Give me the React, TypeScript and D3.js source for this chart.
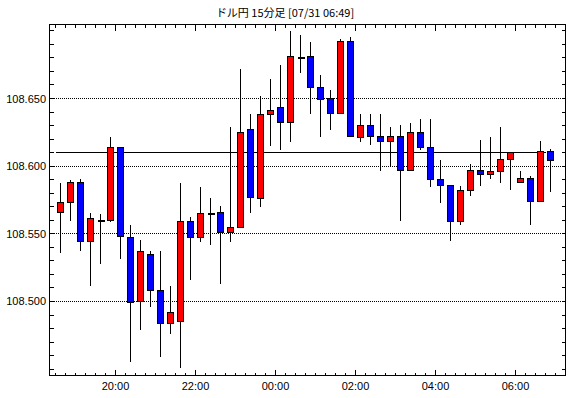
// 15-minute USD/JPY candlestick chart drawn with d3 into an svg
import React, { useEffect, useRef } from 'react';
import * as d3 from 'd3';

const title = 'ドル円 15分足 [07/31 06:49]';

const times = [
  '18:30', '18:45', '19:00', '19:15', '19:30', '19:45', '20:00', '20:15', '20:30', '20:45',
  '21:00', '21:15', '21:30', '21:45', '22:00', '22:15', '22:30', '22:45', '23:00', '23:15',
  '23:30', '23:45', '00:00', '00:15', '00:30', '00:45', '01:00', '01:15', '01:30', '01:45',
  '02:00', '02:15', '02:30', '02:45', '03:00', '03:15', '03:30', '03:45', '04:00', '04:15',
  '04:30', '04:45', '05:00', '05:15', '05:30', '05:45', '06:00', '06:15', '06:30', '06:45',
];

const opens = [
  108.566, 108.573, 108.588, 108.544, 108.560, 108.560, 108.614, 108.547, 108.500, 108.535,
  108.508, 108.484, 108.485, 108.559, 108.547, 108.565, 108.566, 108.551, 108.555, 108.627,
  108.576, 108.638, 108.643, 108.632, 108.680, 108.681, 108.658, 108.650, 108.639, 108.692,
  108.621, 108.630, 108.622, 108.618, 108.622, 108.597, 108.625, 108.614, 108.590, 108.586,
  108.559, 108.582, 108.597, 108.594, 108.596, 108.605, 108.588, 108.591, 108.574, 108.611,
];
const highs = [
  108.588, 108.590, 108.591, 108.566, 108.565, 108.622, 108.614, 108.557, 108.546, 108.538,
  108.538, 108.512, 108.588, 108.563, 108.585, 108.577, 108.571, 108.629, 108.672, 108.639,
  108.652, 108.665, 108.675, 108.700, 108.697, 108.692, 108.668, 108.657, 108.694, 108.696,
  108.639, 108.639, 108.639, 108.629, 108.631, 108.632, 108.635, 108.635, 108.605, 108.586,
  108.586, 108.602, 108.620, 108.622, 108.629, 108.610, 108.597, 108.593, 108.619, 108.613,
];
const lows = [
  108.536, 108.560, 108.538, 108.512, 108.528, 108.559, 108.532, 108.456, 108.479, 108.496,
  108.459, 108.476, 108.451, 108.516, 108.544, 108.542, 108.513, 108.544, 108.555, 108.566,
  108.570, 108.615, 108.612, 108.618, 108.669, 108.639, 108.622, 108.627, 108.639, 108.622,
  108.618, 108.616, 108.597, 108.600, 108.560, 108.597, 108.612, 108.585, 108.573, 108.545,
  108.557, 108.578, 108.586, 108.591, 108.588, 108.583, 108.588, 108.557, 108.574, 108.581,
];
const closes = [
  108.573, 108.588, 108.544, 108.561, 108.560, 108.614, 108.548, 108.499, 108.537, 108.508,
  108.484, 108.492, 108.559, 108.547, 108.565, 108.565, 108.551, 108.555, 108.625, 108.577,
  108.638, 108.641, 108.632, 108.681, 108.680, 108.658, 108.649, 108.639, 108.692, 108.622,
  108.630, 108.622, 108.618, 108.622, 108.597, 108.625, 108.614, 108.590, 108.586, 108.559,
  108.582, 108.597, 108.594, 108.596, 108.605, 108.610, 108.591, 108.574, 108.611, 108.604,
];

const refPrice = 108.6099;
const gridPrices = [108.5, 108.55, 108.6, 108.65];
const hourLabels = ['20:00', '22:00', '00:00', '02:00', '04:00', '06:00'];

// times before noon belong to the next day
const toDate = (hhmm: string) => {
  const [h, m] = hhmm.split(':').map(Number);
  return new Date(2019, 6, h < 12 ? 31 : 30, h, m);
};

const App = () => {
  const svgRef = useRef<SVGSVGElement>(null);

  useEffect(() => {
    const width = 570;
    const height = 398;
    const svg = d3.select(svgRef.current);
    svg.selectAll('*').remove();
    svg.attr('width', width).attr('height', height);

    const left = 49.5, right = 565.5, top = 24.5, bottom = 375.5;
    const font = '"Liberation Sans", Arial, sans-serif';
    const px = (v: number) => Math.floor(v) + 0.5;

    const xScale = d3.scaleTime()
      .domain([new Date(2019, 6, 30, 18, 21), new Date(2019, 6, 31, 7, 15)])
      .range([left, right]);

    const yScale = d3.scaleLinear()
      .domain([108.4453, 108.7047])
      .range([bottom, top]);

    svg.append('rect')
      .attr('width', width).attr('height', height).attr('fill', '#fff');

    // title
    svg.append('text')
      .attr('x', 285).attr('y', 17)
      .attr('text-anchor', 'middle')
      .attr('font-family', '"Noto Sans CJK JP", sans-serif')
      .attr('font-size', 11)
      .text(title);

    const g = svg.append('g').attr('shape-rendering', 'crispEdges');

    // dotted grid
    g.selectAll('.grid')
      .data(gridPrices)
      .enter()
      .append('line')
      .attr('x1', left).attr('x2', right)
      .attr('y1', d => px(yScale(d))).attr('y2', d => px(yScale(d)))
      .attr('stroke', '#000')
      .attr('stroke-dasharray', '1,1');

    // reference price line
    g.append('line')
      .attr('x1', px(xScale(toDate('18:30'))))
      .attr('x2', px(xScale(toDate('06:45'))))
      .attr('y1', px(yScale(refPrice))).attr('y2', px(yScale(refPrice)))
      .attr('stroke', '#000');

    // y ticks every 0.01, both sides, pointing in
    const yTicks = d3.range(0, 26).map(i => +(108.45 + i * 0.01).toFixed(2));
    yTicks.forEach(v => {
      const y = px(yScale(v));
      g.append('line').attr('x1', left).attr('x2', left + 4).attr('y1', y).attr('y2', y).attr('stroke', '#000');
      g.append('line').attr('x1', right - 4).attr('x2', right).attr('y1', y).attr('y2', y).attr('stroke', '#000');
    });

    // x ticks every 15 min, top and bottom
    const xTicks = d3.timeMinute.every(15)!.range(toDate('18:30'), new Date(2019, 6, 31, 7, 16));
    xTicks.forEach(t => {
      const x = px(xScale(t));
      const major = t.getMinutes() === 0 && t.getHours() % 2 === 0;
      const len = major ? 6 : 3;
      g.append('line').attr('x1', x).attr('x2', x).attr('y1', top).attr('y2', top + len).attr('stroke', '#000');
      g.append('line').attr('x1', x).attr('x2', x).attr('y1', bottom - len).attr('y2', bottom).attr('stroke', '#000');
    });

    // candles
    const data = times.map((t, i) => ({
      t: toDate(t), o: opens[i], h: highs[i], l: lows[i], c: closes[i],
    }));
    const half = 7.5 * 60 * 1000;

    data.forEach(d => {
      const cx = px(xScale(new Date(d.t.getTime() + half)));
      g.append('line')
        .attr('x1', cx).attr('x2', cx)
        .attr('y1', px(yScale(d.h))).attr('y2', px(yScale(d.l)))
        .attr('stroke', '#000');
      const yTop = px(yScale(Math.max(d.o, d.c)));
      const yBot = px(yScale(Math.min(d.o, d.c)));
      if (yBot - yTop < 1) {
        g.append('line')
          .attr('x1', cx - 3).attr('x2', cx + 4)
          .attr('y1', yTop).attr('y2', yTop)
          .attr('stroke', '#000').attr('stroke-width', 2);
      } else {
        g.append('rect')
          .attr('x', cx - 3).attr('width', 6)
          .attr('y', yTop).attr('height', yBot - yTop)
          .attr('fill', d.c > d.o ? '#ff0000' : '#0000ff')
          .attr('stroke', '#000');
      }
    });

    // frame
    g.append('rect')
      .attr('x', left).attr('y', top)
      .attr('width', right - left).attr('height', bottom - top)
      .attr('fill', 'none').attr('stroke', '#000');

    // y labels
    svg.selectAll('.ylab')
      .data(gridPrices)
      .enter()
      .append('text')
      .attr('x', 46)
      .attr('y', d => yScale(d) + 4)
      .attr('text-anchor', 'end')
      .attr('font-family', font)
      .attr('font-size', 11)
      .text(d => d.toFixed(3));

    // x labels
    svg.selectAll('.xlab')
      .data(hourLabels)
      .enter()
      .append('text')
      .attr('x', d => xScale(toDate(d)))
      .attr('y', 390)
      .attr('text-anchor', 'middle')
      .attr('font-family', font)
      .attr('font-size', 11)
      .text(d => d);
  }, []);

  return (
    <div style={{ position: 'absolute', left: 0, top: 0 }}>
      <svg ref={svgRef} style={{ display: 'block' }}></svg>
    </div>
  );
};

export default App;
